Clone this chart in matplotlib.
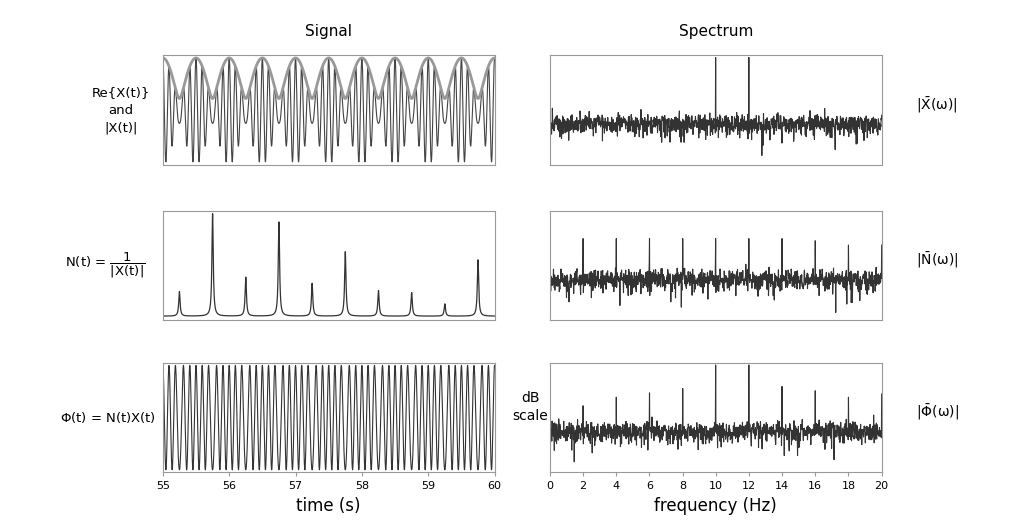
import numpy as np
import matplotlib.pyplot as plt

plt.rcParams['mathtext.default'] = 'regular'

# signal components (Hz, amplitude)
sig_freqs = [10, 12]
sig_amps = [1.0, 0.62]

# N(t) peaks: time (s) and height
n_peak_t = [55.25, 55.75, 56.25, 56.75, 57.25, 57.75, 58.25, 58.75, 59.25, 59.75]
n_peak_h = [0.24, 1.0, 0.38, 0.92, 0.32, 0.63, 0.25, 0.23, 0.12, 0.55]

# spectrum peaks (Hz) and heights (axis units, floor at 0)
x_peak_f = [10, 12]
x_peak_h = [0.6, 0.6]
n_peak_f = [0, 2, 4, 6, 8, 10, 12, 14, 16, 18, 20]
n_peak_hs = [0.45, 0.36, 0.36, 0.36, 0.36, 0.36, 0.36, 0.36, 0.34, 0.3, 0.3]
p_peak_f = [0, 2, 4, 6, 8, 10, 12, 14, 16, 18, 20]
p_peak_hs = [0.35, 0.22, 0.3, 0.34, 0.38, 0.6, 0.6, 0.4, 0.36, 0.3, 0.33]

t = np.linspace(55, 60, 6000)
X = sum(a * np.exp(2j * np.pi * f * t) for f, a in zip(sig_freqs, sig_amps))
reX = X.real
absX = np.abs(X)
N = np.full_like(t, 0.02)
for tk, hk in zip(n_peak_t, n_peak_h):
    N += hk / (1 + ((t - tk) / 0.012) ** 2)
Phi = reX / absX

fr = np.linspace(0, 20, 1200)
rng = np.random.default_rng(3)

def spectrum(pf, ph):
    s = 0.04 * rng.standard_normal(fr.size) - 0.025 * rng.standard_normal(fr.size) ** 2
    for f, h in zip(pf, ph):
        s[np.argmin(np.abs(fr - f))] = h
    return s

fig = plt.figure(figsize=(10.24, 5.32), dpi=100)
L, R, W = 0.159, 0.537, 0.324
rows = [0.69, 0.398, 0.112]
H = 0.206
lc = '#333333'

def frame(ax):
    for s in ax.spines.values():
        s.set_color('#999999')
        s.set_linewidth(0.8)
    ax.set_yticks([])

ax = fig.add_axes([L, rows[0], W, H])
ax.plot(t, reX, color='#444444', lw=0.8)
ax.plot(t, absX, color='#999999', lw=2)
ax.set_xlim(55, 60); ax.set_ylim(-1.65, 1.7); ax.set_xticks([])
frame(ax)
ax.set_title('Signal', fontsize=11, pad=14)
fig.text(0.118, rows[0] + H / 2, 'Re{X(t)}\nand\n|X(t)|', ha='center', va='center', fontsize=9.5, linespacing=1.5)

ax = fig.add_axes([L, rows[1], W, H])
ax.plot(t, N, color=lc, lw=0.9)
ax.set_xlim(55, 60); ax.set_ylim(-0.02, 1.05); ax.set_xticks([])
frame(ax)
fig.text(0.142, rows[1] + H / 2, r'N(t) = $\dfrac{1}{|X(t)|}$', ha='right', va='center', fontsize=9.5)

ax = fig.add_axes([L, rows[2], W, H])
ax.plot(t, Phi, color=lc, lw=0.8)
ax.set_xlim(55, 60); ax.set_ylim(-1.05, 1.05)
ax.set_xticks(range(55, 61))
ax.tick_params(labelsize=8, length=3, color='#999999')
frame(ax)
ax.set_xlabel('time (s)', fontsize=12)
fig.text(0.152, rows[2] + H / 2, r'$\Phi$(t) = N(t)X(t)', ha='right', va='center', fontsize=9.5)

specs = [(x_peak_f, x_peak_h, r'$|\bar{X}(\omega)|$'),
         (n_peak_f, n_peak_hs, r'$|\bar{N}(\omega)|$'),
         (p_peak_f, p_peak_hs, r'$|\bar{\Phi}(\omega)|$')]
for i, (pf, ph, lab) in enumerate(specs):
    ax = fig.add_axes([R, rows[i], W, H])
    ax.plot(fr, spectrum(pf, ph), color=lc, lw=0.8)
    ax.set_xlim(0, 20); ax.set_ylim(-0.4, 0.62)
    frame(ax)
    fig.text(0.915, rows[i] + H / 2 + 0.01, lab, ha='center', va='center', fontsize=10)
    if i == 0:
        ax.set_title('Spectrum', fontsize=11, pad=14)
    if i < 2:
        ax.set_xticks([])
    else:
        ax.set_xticks(range(0, 21, 2))
        ax.tick_params(labelsize=8, length=3, color='#999999')
        ax.set_xlabel('frequency (Hz)', fontsize=12)
fig.text(0.518, rows[2] + H / 2 + 0.02, 'dB\nscale', ha='center', va='center', fontsize=10, linespacing=1.3)

fig.savefig('out.png', dpi=100)
